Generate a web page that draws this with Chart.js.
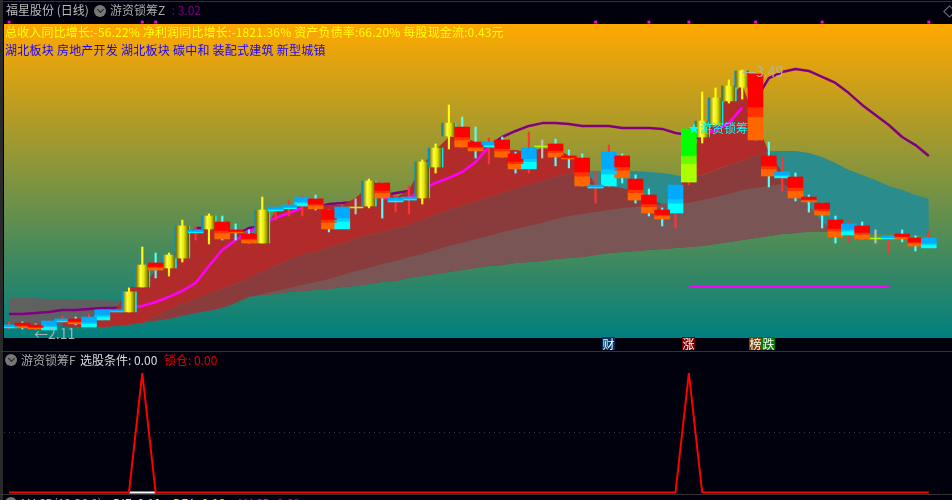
<!DOCTYPE html>
<html>
<head>
<meta charset="utf-8">
<script src="https://cdn.jsdelivr.net/npm/chart.js@4"></script>
<style>
    html, body { margin: 0; padding: 0; width: 952px; height: 500px; overflow: hidden; background: #01010d; }
    body { position: relative; font-family: "Noto Sans CJK SC", sans-serif; font-size: 12px; }
    canvas { position: absolute; left: 0; }
    .t { position: absolute; white-space: pre; line-height: 16px; height: 16px; }
    .tag { position: absolute; top: 337px; width: 13px; height: 13px; line-height: 13px; color: #fff; text-align: center; font-size: 12px; }
    .rule { position: absolute; left: 0; width: 952px; height: 1px; background: #333; }
    .btn { position: absolute; width: 12px; height: 12px; border-radius: 6px; background: #777; }
    .btn i { position: absolute; left: 3.5px; top: 2px; width: 4px; height: 4px; border-right: 1.5px solid #222; border-bottom: 1.5px solid #222; transform: rotate(45deg); }
</style>
</head>
<body>
<canvas id="chart-main" style="top:0"></canvas>
<canvas id="chart-sub" style="top:352px"></canvas>

<div style="position:absolute;left:0;top:0;width:3px;height:500px;background:#2a2a2a"></div>
<div class="rule" style="top:1px"></div>
<div class="rule" style="top:351px"></div>
<div class="rule" style="top:494px"></div>
<div style="position:absolute;left:945px;top:7px;width:7px;height:7px;border:1px solid #777;transform:rotate(45deg)"></div>

<div class="t" style="left:6px;top:2px;color:#bdbdbd">福星股份 (日线)</div>
<div class="btn" style="left:94px;top:5px"><i></i></div>
<div class="t" style="left:110px;top:2px;color:#aaa">游资锁筹Z</div>
<div class="t" style="left:169px;top:2px;color:#800080"> : 3.02</div>

<div class="t" style="left:5px;top:24px;color:#ffff00;letter-spacing:0.16px">总收入同比增长:-56.22% 净利润同比增长:-1821.36% 资产负债率:66.20% 每股现金流:0.43元</div>
<div class="t" style="left:5px;top:42px;color:#1a00ff;letter-spacing:0.24px">湖北板块 房地产开发 湖北板块 碳中和 装配式建筑 新型城镇</div>

<div class="t" style="left:34px;top:325px;color:#a4b4ae;font-size:14px">←2.11</div>
<div class="t" style="left:742px;top:63px;color:#b4b4a0;font-size:14px">←3.49</div>
<div class="t" style="left:688px;top:120px;color:#00ffff">★游资锁筹</div>

<div class="tag" style="left:602px;background:#003366">财</div>
<div class="tag" style="left:682px;background:#7a0000">涨</div>
<div class="tag" style="left:749px;background:#7a4000">榜</div>
<div class="tag" style="left:762px;background:#007a00">跌</div>

<div class="btn" style="left:5px;top:354px"><i></i></div>
<div class="t" style="left:21px;top:352px;color:#aaa">游资锁筹F</div>
<div class="t" style="left:80px;top:352px;color:#dcdcdc">选股条件: 0.00</div>
<div class="t" style="left:164px;top:352px;color:#e00000">锁仓: 0.00</div>

<div class="btn" style="left:5px;top:497px"><i></i></div>
<div class="t" style="left:21px;top:495px;color:#aaa">MACD(12,26,9)</div>
<div class="t" style="left:113px;top:495px;color:#dcdcdc">DIF: 0.10</div>
<div class="t" style="left:173px;top:495px;color:#e0e000">DEA: 0.06</div>
<div class="t" style="left:238px;top:495px;color:#e000e0">MACD: 0.08</div>

<script>
// one letter per day: g gold up, r red, b blue, d doji, v limit-up green
const candleKind = ['b','r','r','b','b','r','b','b','b','g','g','r','g','g','b','g','r','r','r','g',
    'b','b','b','r','r','b','d','g','r','b','b','g','g','g','r','r','b','r','r','b',
    'd','r','r','r','b','b','r','r','r','r','b','v','g','g','g','g','r','r','b','r',
    'r','r','r','b','r','d','b','r','r','b'];

const bodyTop = [2.132,2.142,2.132,2.153,2.164,2.164,2.174,2.212,2.212,2.308,2.451,2.462,2.504,2.659,2.638,2.712,2.680,2.638,2.616,2.744,
    2.760,2.771,2.813,2.803,2.744,2.760,2.760,2.899,2.888,2.808,2.813,3.000,3.074,3.207,3.186,3.106,3.106,3.117,3.043,3.074,
    3.085,3.096,3.032,3.021,2.877,3.053,3.032,2.909,2.824,2.744,2.877,3.176,3.218,3.341,3.405,3.485,3.469,3.032,2.947,2.920,
    2.813,2.781,2.691,2.670,2.659,2.595,2.606,2.616,2.595,2.595];
const bodyBottom = [2.116,2.116,2.110,2.105,2.148,2.137,2.121,2.158,2.201,2.201,2.334,2.424,2.435,2.488,2.622,2.643,2.590,2.622,2.568,2.568,
    2.739,2.750,2.765,2.750,2.643,2.643,2.755,2.765,2.808,2.787,2.797,2.808,2.973,3.138,3.080,3.059,3.080,3.026,2.963,2.963,
    3.080,3.026,3.016,2.872,2.861,2.872,2.915,2.797,2.728,2.696,2.728,2.893,3.133,3.197,3.325,3.399,3.117,2.925,2.915,2.808,
    2.787,2.717,2.600,2.611,2.590,2.590,2.590,2.590,2.552,2.542];
const wickTop = [2.148,2.148,2.137,2.153,2.180,2.174,2.190,2.212,2.212,2.329,2.547,2.515,2.515,2.690,2.654,2.723,2.712,2.670,2.638,2.813,
    2.760,2.797,2.819,2.824,2.744,2.771,2.803,2.909,2.888,2.824,2.872,3.011,3.096,3.303,3.239,3.186,3.128,3.133,3.053,3.160,
    3.117,3.122,3.064,3.043,2.952,3.090,3.043,2.931,2.856,2.755,2.877,3.176,3.373,3.394,3.437,3.490,3.469,3.106,3.026,2.941,
    2.824,2.781,2.712,2.685,2.680,2.638,2.606,2.638,2.606,2.632];
const wickBottom = [2.110,2.110,2.110,2.105,2.148,2.132,2.121,2.158,2.201,2.201,2.334,2.382,2.392,2.467,2.584,2.563,2.584,2.584,2.568,2.568,
    2.691,2.712,2.712,2.744,2.627,2.643,2.723,2.755,2.701,2.733,2.723,2.776,2.941,3.069,3.080,3.021,2.989,3.026,2.941,2.941,
    3.021,2.979,2.968,2.872,2.781,2.867,2.888,2.781,2.712,2.659,2.648,2.877,3.101,3.197,3.314,3.335,3.117,2.867,2.845,2.792,
    2.733,2.648,2.568,2.574,2.590,2.568,2.515,2.574,2.526,2.542];

const bandFloor = [2.142,2.137,2.132,2.126,2.126,2.121,2.121,2.121,2.126,2.132,2.142,2.153,2.163,2.179,2.195,2.206,2.222,2.249,2.281,2.291,
    2.297,2.307,2.313,2.318,2.323,2.334,2.339,2.350,2.360,2.366,2.382,2.392,2.403,2.414,2.424,2.435,2.446,2.451,2.462,2.467,
    2.472,2.483,2.488,2.494,2.504,2.515,2.520,2.526,2.531,2.536,2.542,2.547,2.552,2.563,2.574,2.584,2.595,2.606,2.616,2.622,
    2.627,2.627,2.627,2.622,2.622,2.616,2.616,2.611,2.611,2.606];
const greyTop = [2.275,2.275,2.275,2.270,2.270,2.265,2.265,2.265,2.259,2.254];
const tealTop = [null,null,null,null,null,null,null,null,null,2.254,2.265,2.275,2.286,2.302,2.318,2.344,2.371,2.398,2.424,2.451,
    2.488,2.520,2.552,2.584,2.606,2.627,2.648,2.670,2.691,2.712,2.733,2.755,2.776,2.797,2.819,2.840,2.861,2.883,2.899,2.915,
    2.925,2.936,2.947,2.952,2.952,2.952,2.952,2.952,2.947,2.941,2.931,2.915,2.925,2.947,2.984,3.021,3.053,3.058,3.058,3.058,
    3.048,3.026,2.995,2.957,2.931,2.904,2.872,2.851,2.824,2.803];
const midTop = [null,null,null,null,null,null,null,null,null,null,null,null,null,null,null,null,null,null,2.281,2.297,
    2.313,2.329,2.344,2.360,2.376,2.398,2.419,2.435,2.456,2.472,2.494,2.510,2.531,2.552,2.568,2.590,2.606,2.627,2.643,2.659,
    2.675,2.696,2.712,2.723,2.733,2.744,2.755,2.760,2.771,2.776,2.779,2.781,2.797,2.813,2.829,2.851,2.861,2.872,2.883,2.851,
    2.765,2.680,2.627];
const redBottom = [null,null,null,null,2.126,2.121,2.121,2.121,2.126,2.132,2.142,2.179,2.211,2.243,2.270,2.297,2.323,2.350,2.382,2.414,
    2.446,2.478,2.504,2.520,2.542,2.563,2.590,2.611,2.627,2.643,2.664,2.691,2.717,2.744,2.765,2.787,2.808,2.835,2.856,2.877,
    2.899,2.920,2.936,2.947,2.877,2.872,2.861,2.840,2.803,2.776,2.779,2.915,2.931,2.957,2.984,3.005,3.032,3.053,2.947,2.851];
const redTop = [null,null,null,null,2.148,2.148,2.148,2.195,2.211,2.334,2.334,2.424,2.440,2.632,2.643,2.643,2.643,2.627,2.622,2.622,
    2.739,2.755,2.771,2.771,2.771,2.771,2.808,2.872,2.872,2.808,2.851,2.984,3.064,3.133,3.133,3.106,3.080,3.064,3.064,3.053,
    3.074,3.064,3.037,2.989,2.877,2.872,2.861,2.840,2.803,2.776,2.779,3.011,3.170,3.277,3.346,3.410,3.224,3.053,2.947,2.851];
const purpleLine = [2.190,2.190,2.195,2.201,2.211,2.211,2.217,2.222,2.222,2.233,2.249,2.265,2.286,2.318,2.648,2.648,2.638,2.611,2.648,2.659,
    2.680,2.702,2.733,2.755,2.776,2.781,2.787,2.797,2.819,2.835,2.845,2.861,2.931,2.984,3.011,3.048,3.085,3.133,3.165,3.192,
    3.207,3.207,3.202,3.192,3.192,3.192,3.181,3.181,3.181,3.176,3.154,3.144,3.117,3.117,3.144,3.224,3.330,3.447,3.479,3.495,
    3.485,3.453,3.421,3.367,3.304,3.250,3.197,3.133,3.090,3.032];
const magentaLine = [null,null,null,null,null,null,null,null,null,2.222,2.233,2.254,2.281,2.313,2.355,2.446,2.531,2.584,2.627,2.670,
    2.702,2.728,2.755,null,null,null,null,null,2.808,2.803,2.808,2.851,2.888,2.915,2.947,3.000,3.080,null,null,null,
    null,null,null,null,null,null,null,null,null,null,null,3.122,3.144,3.170,3.208,3.288];
const supportLine = [null,null,null,null,null,null,null,null,null,null,null,null,null,null,null,null,null,null,null,null,
    null,null,null,null,null,null,null,null,null,null,null,null,null,null,null,null,null,null,null,null,
    null,null,null,null,null,null,null,null,null,null,null,2.339,2.339,2.339,2.339,2.339,2.339,2.339,2.339,2.339,
    2.339,2.339,2.339,2.339,2.339,2.339,2.339];
const flagDays = [0,10,11,44,48,51,56,61,69];

const signalLine = [0,0,0,0,0,0,0,0,0,0,100,0,0,0,0,0,0,0,0,0,
    0,0,0,0,0,0,0,0,0,0,0,0,0,0,0,0,0,0,0,0,
    0,0,0,0,0,0,0,0,0,0,0,100,0,0,0,0,0,0,0,0,
    0,0,0,0,0,0,0,0,0,0];
const pickedLine = [null,null,null,null,null,null,null,null,null,0,0,0];

const palettes = {
    r: ['#ff0000', '#ff3300', '#ff6600'],
    b: ['#00aaff', '#00ccff', '#00ffff'],
    v: ['#00ff00', '#66ff00', '#aaff00']
};
const wickColors = { r: '#55ffff', b: '#ff3333', v: '#ff3333', g: '#ffff00', d: '#c0c0c0' };

function series(values) {
    return values.map((v, i) => ({ x: i, y: v }));
}

// one of the three stacked slices of a candle body, top 50%, middle 15%, bottom 35%
function bodySlice(from, to) {
    const out = [];
    candleKind.forEach((k, i) => {
        if (!palettes[k]) return;
        const h = bodyTop[i] - bodyBottom[i];
        out.push({ x: i, y: [bodyTop[i] - h * to, bodyTop[i] - h * from] });
    });
    return out;
}

function pickBodies(kind) {
    const out = [];
    candleKind.forEach((k, i) => {
        if (k === kind) out.push({ x: i, y: [bodyBottom[i], bodyTop[i]] });
    });
    return out;
}

function sliceColor(n) {
    return (c) => {
        if (c.type !== 'data') return '#000';
        return palettes[candleKind[c.raw.x]][n];
    };
}

function goldColor(c) {
    if (c.type !== 'data') return '#ff0';
    const px = c.chart.scales.x.getPixelForValue(c.raw.x);
    if (!isFinite(px)) return '#ff0';
    const g = c.chart.ctx.createLinearGradient(px - 7.5, 0, px + 7.5, 0);
    g.addColorStop(0, '#0090d8');
    g.addColorStop(0.07, '#0090d8');
    g.addColorStop(0.08, '#707000');
    g.addColorStop(0.38, '#ffff40');
    g.addColorStop(0.6, '#e8e800');
    g.addColorStop(0.92, '#606000');
    g.addColorStop(0.93, '#00e8f0');
    g.addColorStop(1, '#00e8f0');
    return g;
}

function band(values, color, target, order) {
    return { type: 'line', data: series(values), borderWidth: 0, pointRadius: 0, tension: 0,
        backgroundColor: color, fill: target === null ? false : { target: target }, order: order };
}

function mark(values, color, width, order) {
    return { type: 'line', data: series(values), borderColor: color, borderWidth: width,
        borderJoinStyle: 'bevel', pointRadius: 0, tension: 0, fill: false, order: order };
}

function bars(data, color, thickness, order) {
    return { type: 'bar', data: data, backgroundColor: color, barThickness: thickness,
        grouped: false, borderWidth: 0, order: order };
}

const backdrop = {
    id: 'backdrop',
    beforeDraw(chart) {
        const { ctx, chartArea: a } = chart;
        const g = ctx.createLinearGradient(0, a.top, 0, a.bottom);
        g.addColorStop(0, '#ffa800');
        g.addColorStop(1, '#007f7f');
        ctx.save();
        ctx.fillStyle = g;
        ctx.fillRect(a.left, a.top, a.right - a.left, a.bottom - a.top);
        ctx.restore();
    }
};

const wickData = candleKind.map((k, i) => ({ x: i, y: [wickBottom[i], wickTop[i]] }));

document.getElementById('chart-main').width = 952;
document.getElementById('chart-main').height = 338;
new Chart(document.getElementById('chart-main').getContext('2d'), {
    type: 'bar',
    data: {
        datasets: [
            band(bandFloor, 'transparent', null, 20),
            band(greyTop, '#5f6060', 0, 19),
            band(tealTop, '#2a8c8c', 0, 18),
            band(redBottom, '#8a3c3c', 0, 17),
            band(midTop, '#7a5555', 0, 16),
            mark(purpleLine, '#800080', 2.5, 15),
            band(redTop, '#b22b2b', 3, 14),
            mark(magentaLine, '#ff00ff', 2.5, 13),
            mark(supportLine, '#ff00ff', 2, 13),
            bars(wickData, (c) => c.type === 'data' ? wickColors[candleKind[c.raw.x]] : '#fff', 1.5, 12),
            bars(bodySlice(0, 0.5), sliceColor(0), 15, 11),
            bars(bodySlice(0.5, 0.65), sliceColor(1), 15, 11),
            bars(bodySlice(0.65, 1), sliceColor(2), 15, 11),
            bars(pickBodies('g'), goldColor, 15, 11),
            bars(pickBodies('d'), '#aaff00', 15, 11),
            { type: 'scatter', data: flagDays.map((d) => ({ x: d, y: 3.745 })), pointStyle: 'rect', pointRadius: 2,
              backgroundColor: '#ff00ff', borderWidth: 0, clip: false, order: 1 }
        ]
    },
    options: {
        responsive: false,
        animation: false,
        layout: { autoPadding: false, padding: { left: 4, top: 24, right: 0, bottom: 0 } },
        plugins: { legend: { display: false }, tooltip: { enabled: false } },
        scales: {
            x: { type: 'linear', display: false, offset: false, min: -0.375, max: 70.74 },
            y: { type: 'linear', display: false, min: 2.062, max: 3.735 }
        }
    },
    plugins: [backdrop]
});

document.getElementById('chart-sub').width = 952;
document.getElementById('chart-sub').height = 142;
new Chart(document.getElementById('chart-sub').getContext('2d'), {
    type: 'line',
    data: {
        datasets: [
            mark(pickedLine, '#ffffff', 2, 2),
            mark(signalLine, '#ff0000', 2, 1)
        ]
    },
    options: {
        responsive: false,
        animation: false,
        layout: { autoPadding: false, padding: { left: 4, top: 0, right: 0, bottom: 0 } },
        plugins: { legend: { display: false }, tooltip: { enabled: false } },
        scales: {
            x: { type: 'linear', display: false, min: -0.375, max: 70.74 },
            y: {
                type: 'linear',
                min: -1.26,
                max: 117.6,
                afterBuildTicks: (axis) => { axis.ticks = [{ value: 50 }]; },
                ticks: { display: false },
                border: { display: false, dash: [1, 4] },
                grid: { color: '#3a3a3a', drawTicks: false }
            }
        }
    }
});
</script>
</body>
</html>
